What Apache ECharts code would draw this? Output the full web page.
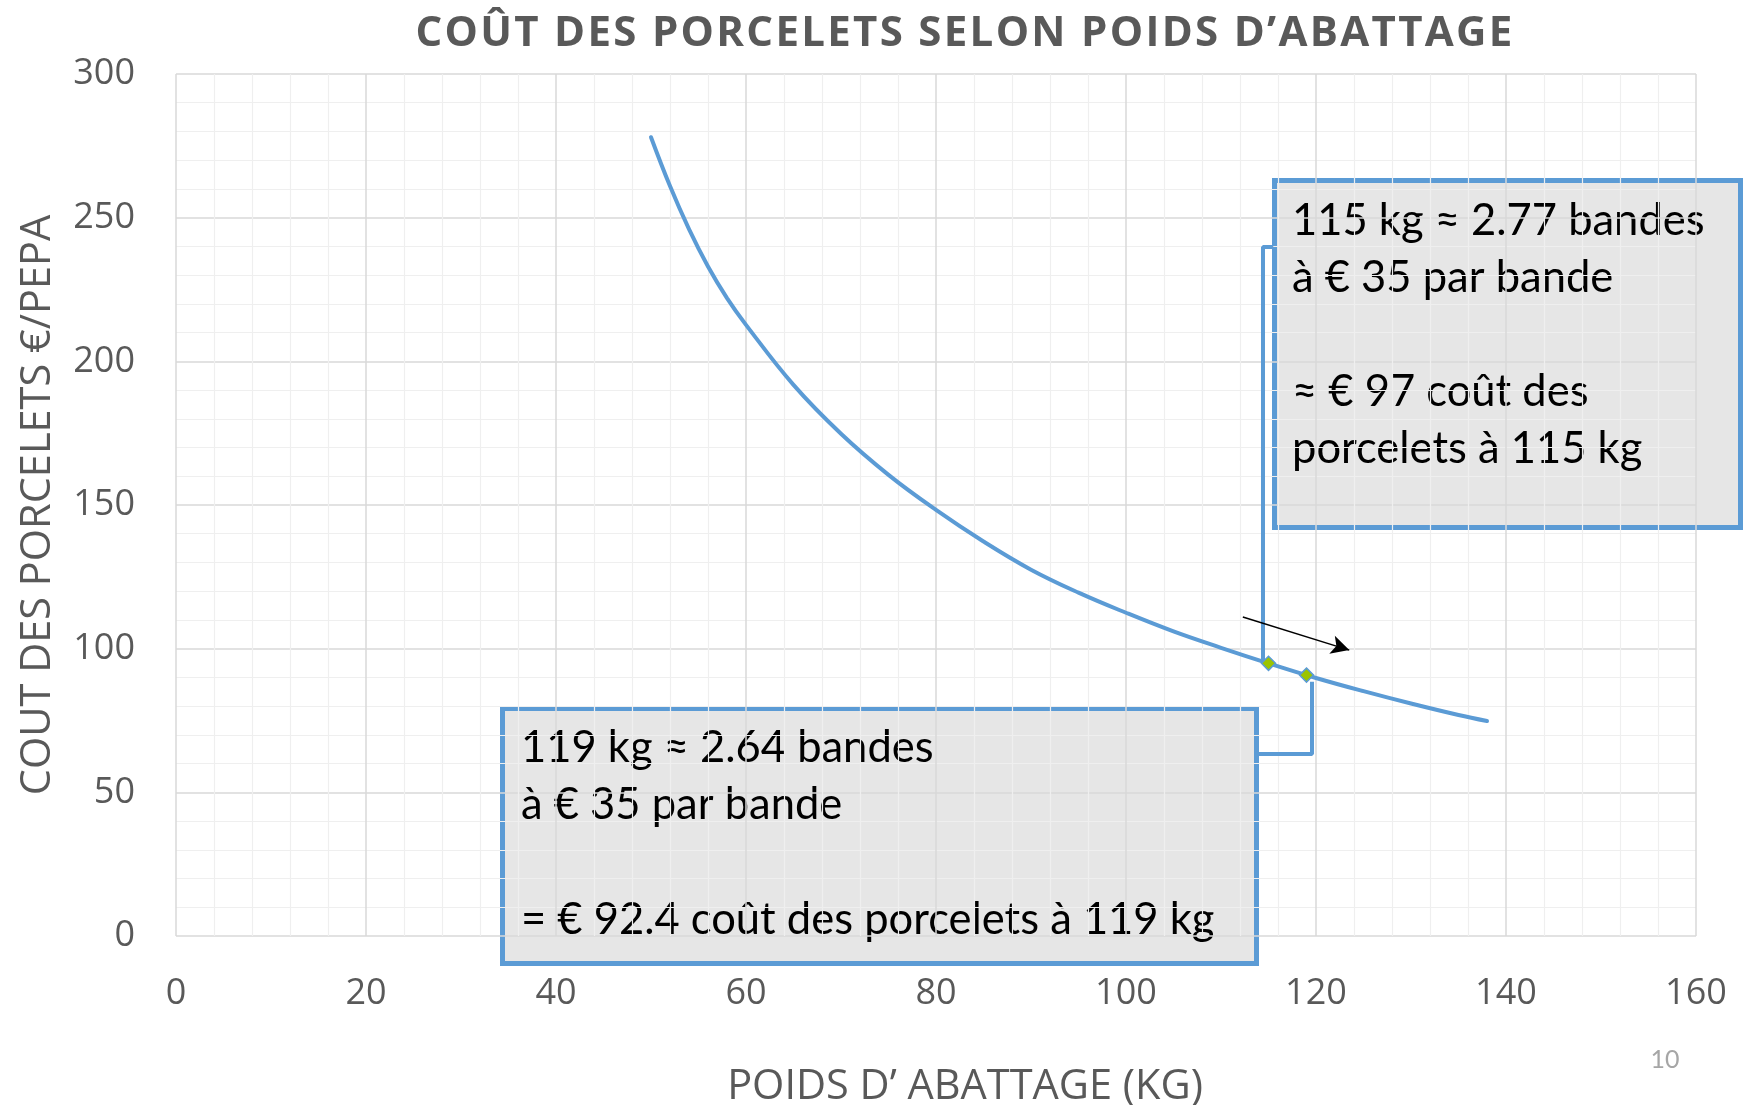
<!DOCTYPE html>
<html>
<head>
<meta charset="utf-8">
<script src="https://cdn.jsdelivr.net/npm/echarts@6/dist/echarts.min.js"></script>
<style>
  html, body { margin: 0; padding: 0; background: #fff; }
  #chart { width: 1747px; height: 1105px; }
</style>
</head>
<body>
<div id="chart"></div>
<script>
// poids d'abattage (kg) -> coût des porcelets (€/PEPA)
const weights = [50, 52, 54, 56, 58, 60, 65, 70, 75, 80, 85, 90, 95, 100, 105, 110, 115, 120, 125, 130, 135, 138];
const costs   = [278, 261, 246, 233, 222, 212.7, 191.8, 174.8, 160.5, 148.3, 137.3, 127.5, 119.5, 112.5, 106.0, 100.3, 94.9, 89.8, 85.2, 80.9, 76.9, 74.8];

// highlighted points
const markWeights = [115, 119];
const markCosts   = [94.9, 90.8];

// callout leader lines (data space)
const leader115 = [[114.42, 95.5], [114.42, 239.8], [115.5, 239.8]];
const leader119 = [[119.58, 88.5], [119.58, 63.3], [113.8, 63.3]];

// small arrow pointing to the right along the curve
const arrowFrom = [112.3, 111.0];
const arrowTo   = [123.5, 99.5];

const xTicks = { min: 0, max: 160, step: 20 };
const yTicks = { min: 0, max: 300, step: 50 };

const titleText = 'COÛT DES PORCELETS SELON POIDS D\u2019ABATTAGE';
const xName = 'POIDS D\u2019 ABATTAGE (KG)';
const yName = 'COUT DES PORCELETS €/PEPA';

const note115 = '115 kg ≈ 2.77 bandes\nà € 35 par bande\n\n≈ € 97 coût des\nporcelets à 115 kg';
const note119 = '119 kg ≈ 2.64 bandes\nà € 35 par bande\n\n= € 92.4 coût des porcelets à 119 kg';

const BLUE = '#5b9bd5';
const GREY_TXT = '#595959';
const TITLE_SIZE = 42;

// the title is letter-spaced in the original; zrender has no option for it,
// so set the canvas letterSpacing just for the title font
const _fillText = CanvasRenderingContext2D.prototype.fillText;
CanvasRenderingContext2D.prototype.fillText = function (t, x, y, w) {
  const f = this.font || '';
  const isTitle = f.indexOf(TITLE_SIZE + 'px') >= 0 && (f.indexOf('bold') >= 0 || f.indexOf('700') >= 0);
  if ('letterSpacing' in this) this.letterSpacing = isTitle ? '2.3px' : '0px';
  return w === undefined ? _fillText.call(this, t, x, y) : _fillText.call(this, t, x, y, w);
};

const chart = echarts.init(document.getElementById('chart'), null, { renderer: 'canvas' });

const axisCommon = {
  type: 'value',
  axisLine: { show: false },
  axisTick: { show: false },
  splitLine: { show: true, lineStyle: { color: '#d9d9d9', width: 1.5 } },
  minorTick: { show: false, splitNumber: 5 },
  minorSplitLine: { show: true, lineStyle: { color: '#efefef', width: 1.2 } },
  axisLabel: { fontFamily: 'Open Sans', fontSize: 36, color: GREY_TXT },
  nameTextStyle: { fontFamily: 'Open Sans', fontSize: 41.5, color: GREY_TXT }
};

chart.setOption({
  backgroundColor: '#fff',
  animation: false,
  title: {
    text: titleText,
    left: 965, top: 13, textAlign: 'center', padding: 0,
    textStyle: { fontFamily: 'Open Sans', fontWeight: 'bold', fontSize: TITLE_SIZE, color: GREY_TXT }
  },
  grid: { left: 176, right: 51, top: 74, bottom: 169, containLabel: false, outerBoundsMode: 'none' },
  xAxis: Object.assign({}, axisCommon, {
    min: xTicks.min, max: xTicks.max, interval: xTicks.step,
    axisLabel: Object.assign({}, axisCommon.axisLabel, { margin: 40 }),
    name: xName, nameLocation: 'middle', nameGap: 130,
    nameTextStyle: Object.assign({}, axisCommon.nameTextStyle, { padding: [0, 0, 0, 58] })
  }),
  yAxis: Object.assign({}, axisCommon, {
    min: yTicks.min, max: yTicks.max, interval: yTicks.step,
    axisLabel: Object.assign({}, axisCommon.axisLabel, { margin: 41 }),
    name: yName, nameLocation: 'middle', nameGap: 117, nameRotate: 90
  }),
  series: [
    {
      name: 'cout', type: 'line', smooth: 0.4, showSymbol: false, z: 3,
      data: weights.map((w, i) => [w, costs[i]]),
      lineStyle: { color: BLUE, width: 4, cap: 'round' },
      markLine: {
        silent: true, symbol: ['none', 'arrow'], symbolSize: [14, 18],
        label: { show: false },
        lineStyle: { color: '#000', width: 1.5, type: 'solid' },
        data: [[{ coord: arrowFrom }, { coord: arrowTo }]]
      }
    },
    {
      type: 'line', showSymbol: false, z: 4, silent: true,
      data: leader115, lineStyle: { color: BLUE, width: 4 }
    },
    {
      type: 'line', showSymbol: false, z: 4, silent: true,
      data: leader119, lineStyle: { color: BLUE, width: 4 }
    },
    {
      type: 'scatter', z: 6, symbol: 'diamond', symbolSize: 14,
      data: markWeights.map((w, i) => [w, markCosts[i]]),
      itemStyle: { color: '#9bc400', borderColor: BLUE, borderWidth: 1.5, opacity: 1 }
    }
  ],
  graphic: [
    {
      type: 'group', z: 10,
      children: [
        { type: 'rect', shape: { x: 1274.5, y: 180.5, width: 466, height: 347 },
          style: { fill: '#e6e6e6', stroke: BLUE, lineWidth: 5 } },
        { type: 'text', x: 1292, y: 192,
          style: { text: note115, font: '43.5px Lato', fill: '#000', lineHeight: 57, verticalAlign: 'top' } }
      ]
    },
    {
      type: 'group', z: 10,
      children: [
        { type: 'rect', shape: { x: 502.5, y: 708.5, width: 754, height: 255 },
          style: { fill: '#e6e6e6', stroke: BLUE, lineWidth: 5 } },
        { type: 'text', x: 521, y: 719,
          style: { text: note119, font: '43.5px Lato', fill: '#000', lineHeight: 57.5, verticalAlign: 'top' } }
      ]
    },
    {
      type: 'text', x: 1665, y: 1060, z: 10,
      style: { text: '10', font: '25px Lato', fill: '#a6a6a6', align: 'center', verticalAlign: 'middle' }
    }
  ]
});
</script>
</body>
</html>
